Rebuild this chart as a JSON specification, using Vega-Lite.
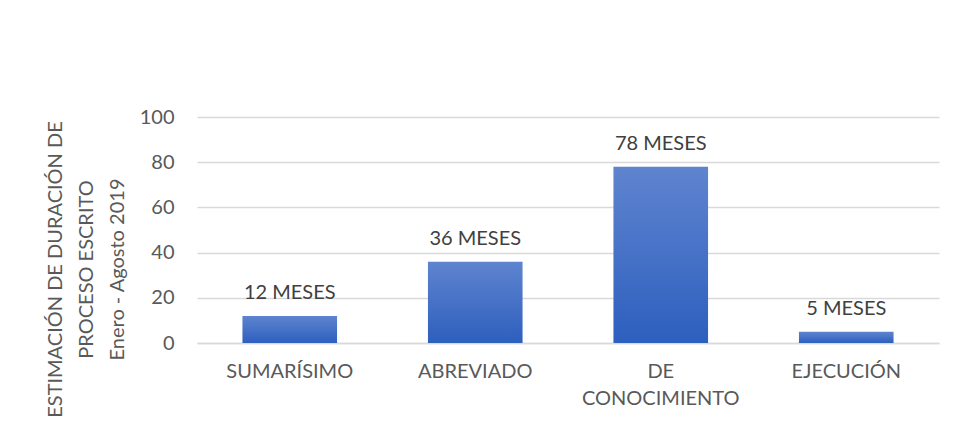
{
  "$schema": "https://vega.github.io/schema/vega-lite/v6.json",
  "autosize": {"type": "none"},
  "padding": {"left": 197, "top": 117, "right": 16, "bottom": 84},
  "width": 742,
  "height": 226,
  "background": "white",
  "data": {
    "values": [
      {"proceso": "SUMARÍSIMO", "meses": 12, "etiqueta": "12 MESES"},
      {"proceso": "ABREVIADO", "meses": 36, "etiqueta": "36 MESES"},
      {"proceso": "DE CONOCIMIENTO", "meses": 78, "etiqueta": "78 MESES"},
      {"proceso": "EJECUCIÓN", "meses": 5, "etiqueta": "5 MESES"}
    ]
  },
  "encoding": {
    "x": {
      "field": "proceso",
      "type": "nominal",
      "sort": null,
      "scale": {"paddingInner": 0.49, "paddingOuter": 0.245},
      "axis": {
        "title": null,
        "labelAngle": 0,
        "labelFont": "Lato",
        "labelFontSize": 20,
        "labelColor": "#595959",
        "labelPadding": 18,
        "labelLineHeight": 27,
        "labelExpr": "datum.value == 'DE CONOCIMIENTO' ? ['DE', 'CONOCIMIENTO'] : datum.value",
        "ticks": false,
        "domain": true,
        "domainColor": "#d9d9d9",
        "domainWidth": 1.5,
        "grid": false
      }
    },
    "y": {
      "field": "meses",
      "type": "quantitative",
      "scale": {"domain": [0, 100]},
      "axis": {
        "values": [0, 20, 40, 60, 80, 100],
        "title": ["ESTIMACIÓN DE DURACIÓN DE", "PROCESO ESCRITO", "Enero - Agosto 2019"],
        "titleFont": "Lato",
        "titleFontSize": 20,
        "titleFontWeight": "normal",
        "titleColor": "#595959",
        "titleLineHeight": 31,
        "titleX": -132,
        "titleY": 152,
        "titleAlign": "center",
        "labelFont": "Lato",
        "labelFontSize": 20,
        "labelColor": "#595959",
        "labelPadding": 23,
        "ticks": false,
        "domain": false,
        "grid": true,
        "gridColor": "#d9d9d9",
        "gridWidth": 1.5
      }
    }
  },
  "layer": [
    {
      "mark": {
        "type": "bar",
        "color": {
          "gradient": "linear",
          "x1": 0, "y1": 0, "x2": 0, "y2": 1,
          "stops": [
            {"offset": 0, "color": "#5f84cf"},
            {"offset": 1, "color": "#2d5fbe"}
          ]
        }
      }
    },
    {
      "mark": {
        "type": "text",
        "font": "Lato",
        "fontSize": 20,
        "color": "#404040",
        "baseline": "alphabetic",
        "dy": -17
      },
      "encoding": {"text": {"field": "etiqueta"}}
    }
  ],
  "config": {"view": {"stroke": null}}
}
